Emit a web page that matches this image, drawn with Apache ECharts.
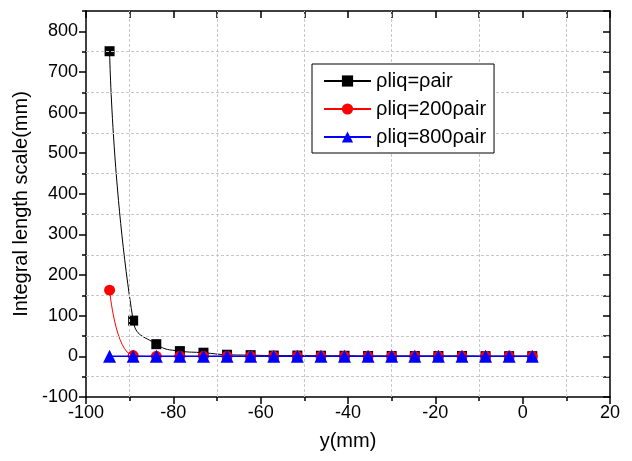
<!DOCTYPE html>
<html>
<head>
<meta charset="utf-8">
<script src="https://cdn.jsdelivr.net/npm/echarts@6/dist/echarts.min.js"></script>
<style>
html,body{margin:0;padding:0;background:#fff;}
#c{width:632px;height:461px;}
</style>
</head>
<body>
<div id="c"></div>
<script>
// Data
var positions = [-94.6, -89.2, -83.9, -78.5, -73.1, -67.7, -62.3, -57.0, -51.6, -46.2, -40.8, -35.4, -30.0, -24.7, -19.3, -13.9, -8.5, -3.1, 2.2];
var liqEqAir   = [751, 88, 30, 13, 9, 4, 3, 2, 2, 1.5, 1.5, 1, 1, 1, 1, 1, 0.5, 0.5, 0.5];
var liq200Air  = [163, 2, 0, 0, 0, 0, 0, 0, 0, 0, 0, 0, 0, 0, 0, 0, 0, 0, 0];
var liq800Air  = [0, 0, 0, 0, 0, 0, 0, 0, 0, 0, 0, 0, 0, 0, 0, 0, 0, 0, 0];
var seriesNames = ['\u03c1liq=\u03c1air', '\u03c1liq=200\u03c1air', '\u03c1liq=800\u03c1air'];
var yTickValues = [-100, 0, 100, 200, 300, 400, 500, 600, 700, 800];
var yGridValues = [-50, 50, 150, 250, 350, 450, 550, 650, 750];
var xGridValues = [-90, -70, -50, -30, -10, 10];

function zip(xs, ys) { return xs.map(function (x, i) { return [x, ys[i]]; }); }

var font = 'Liberation Sans, Arial, sans-serif';
var chart = echarts.init(document.getElementById('c'), null, {renderer: 'canvas'});

var gridMark = {
  silent: true,
  symbol: 'none',
  label: {show: false},
  lineStyle: {color: '#c8c8c8', type: [3, 2], width: 1},
  emphasis: {disabled: true},
  data: yGridValues.map(function (v) { return {yAxis: v}; })
        .concat(xGridValues.map(function (v) { return {xAxis: v}; }))
};

chart.setOption({
  animation: false,
  backgroundColor: '#fff',
  grid: {left: 86, right: 22, top: 11, bottom: 64, containLabel: false},
  legend: {
    left: 312, top: 64,
    z: 50,
    orient: 'vertical',
    itemGap: 8,
    itemWidth: 47, itemHeight: 14,
    padding: [7, 8, 6, 11],
    borderColor: '#000', borderWidth: 1,
    backgroundColor: '#fff',
    textStyle: {fontFamily: font, fontSize: 20, color: '#000', padding: [0, 0, 0, 0]},
    data: seriesNames
  },
  xAxis: [
    {
      type: 'value', position: 'bottom', min: -100, max: 20, interval: 20,
      name: 'y(mm)', nameLocation: 'middle', nameGap: 34,
      nameTextStyle: {fontFamily: font, fontSize: 20, color: '#000'},
      axisLine: {show: true, onZero: false, lineStyle: {color: '#000', width: 1.5}},
      axisTick: {show: true, inside: false, length: 7, lineStyle: {color: '#000', width: 1.5}},
      minorTick: {show: true, splitNumber: 2, length: 4, lineStyle: {color: '#000', width: 1.5}},
      axisLabel: {fontFamily: font, fontSize: 18, color: '#000', margin: 7},
      splitLine: {show: false}, minorSplitLine: {show: false}
    },
    {
      type: 'value', position: 'top', min: -100, max: 20, interval: 10,
      axisLine: {show: true, onZero: false, lineStyle: {color: '#000', width: 1.5}},
      axisTick: {show: true, inside: true, length: 7, lineStyle: {color: '#000', width: 1.5}},
      axisLabel: {show: false}, splitLine: {show: false}
    }
  ],
  yAxis: [
    {
      type: 'value', position: 'left', min: -100, max: 850, interval: 100,
      name: 'Integral length scale(mm)', nameLocation: 'middle', nameGap: 46,
      nameTextStyle: {fontFamily: font, fontSize: 20, color: '#000'},
      axisLine: {show: true, onZero: false, lineStyle: {color: '#000', width: 1.5}},
      axisTick: {show: true, inside: false, length: 7, customValues: yTickValues, lineStyle: {color: '#000', width: 1.5}},
      axisLabel: {fontFamily: font, fontSize: 18, color: '#000', margin: 8, customValues: yTickValues},
      splitLine: {show: false}
    },
    {
      type: 'value', position: 'right', min: -100, max: 850, interval: 50,
      axisLine: {show: true, onZero: false, lineStyle: {color: '#000', width: 1.5}},
      axisTick: {show: true, inside: true, length: 7, lineStyle: {color: '#000', width: 1.5}},
      axisLabel: {show: false}, splitLine: {show: false}
    },
    {
      type: 'value', position: 'left', min: -100, max: 850, interval: 50,
      axisLine: {show: false, onZero: false},
      axisTick: {show: true, inside: false, length: 4, lineStyle: {color: '#000', width: 1.5}},
      axisLabel: {show: false}, splitLine: {show: false}
    }
  ],
  series: [
    {
      name: 'grid', type: 'line', data: [], markLine: gridMark, z: 0, silent: true
    },
    {
      name: seriesNames[0], type: 'line', smooth: 0.5,
      data: zip(positions, liqEqAir),
      symbol: 'rect', symbolSize: 10,
      itemStyle: {color: '#000'}, lineStyle: {color: '#000', width: 1}, z: 3
    },
    {
      name: seriesNames[1], type: 'line', smooth: 0.5,
      data: zip(positions, liq200Air),
      symbol: 'circle', symbolSize: 11,
      itemStyle: {color: '#ff0000'}, lineStyle: {color: '#ff0000', width: 1}, z: 4
    },
    {
      name: seriesNames[2], type: 'line', smooth: 0.5,
      data: zip(positions, liq800Air),
      symbol: 'triangle', symbolSize: 13,
      itemStyle: {color: '#0000ff'}, lineStyle: {color: '#0000ff', width: 1.5}, z: 5
    }
  ]
});
</script>
</body>
</html>
